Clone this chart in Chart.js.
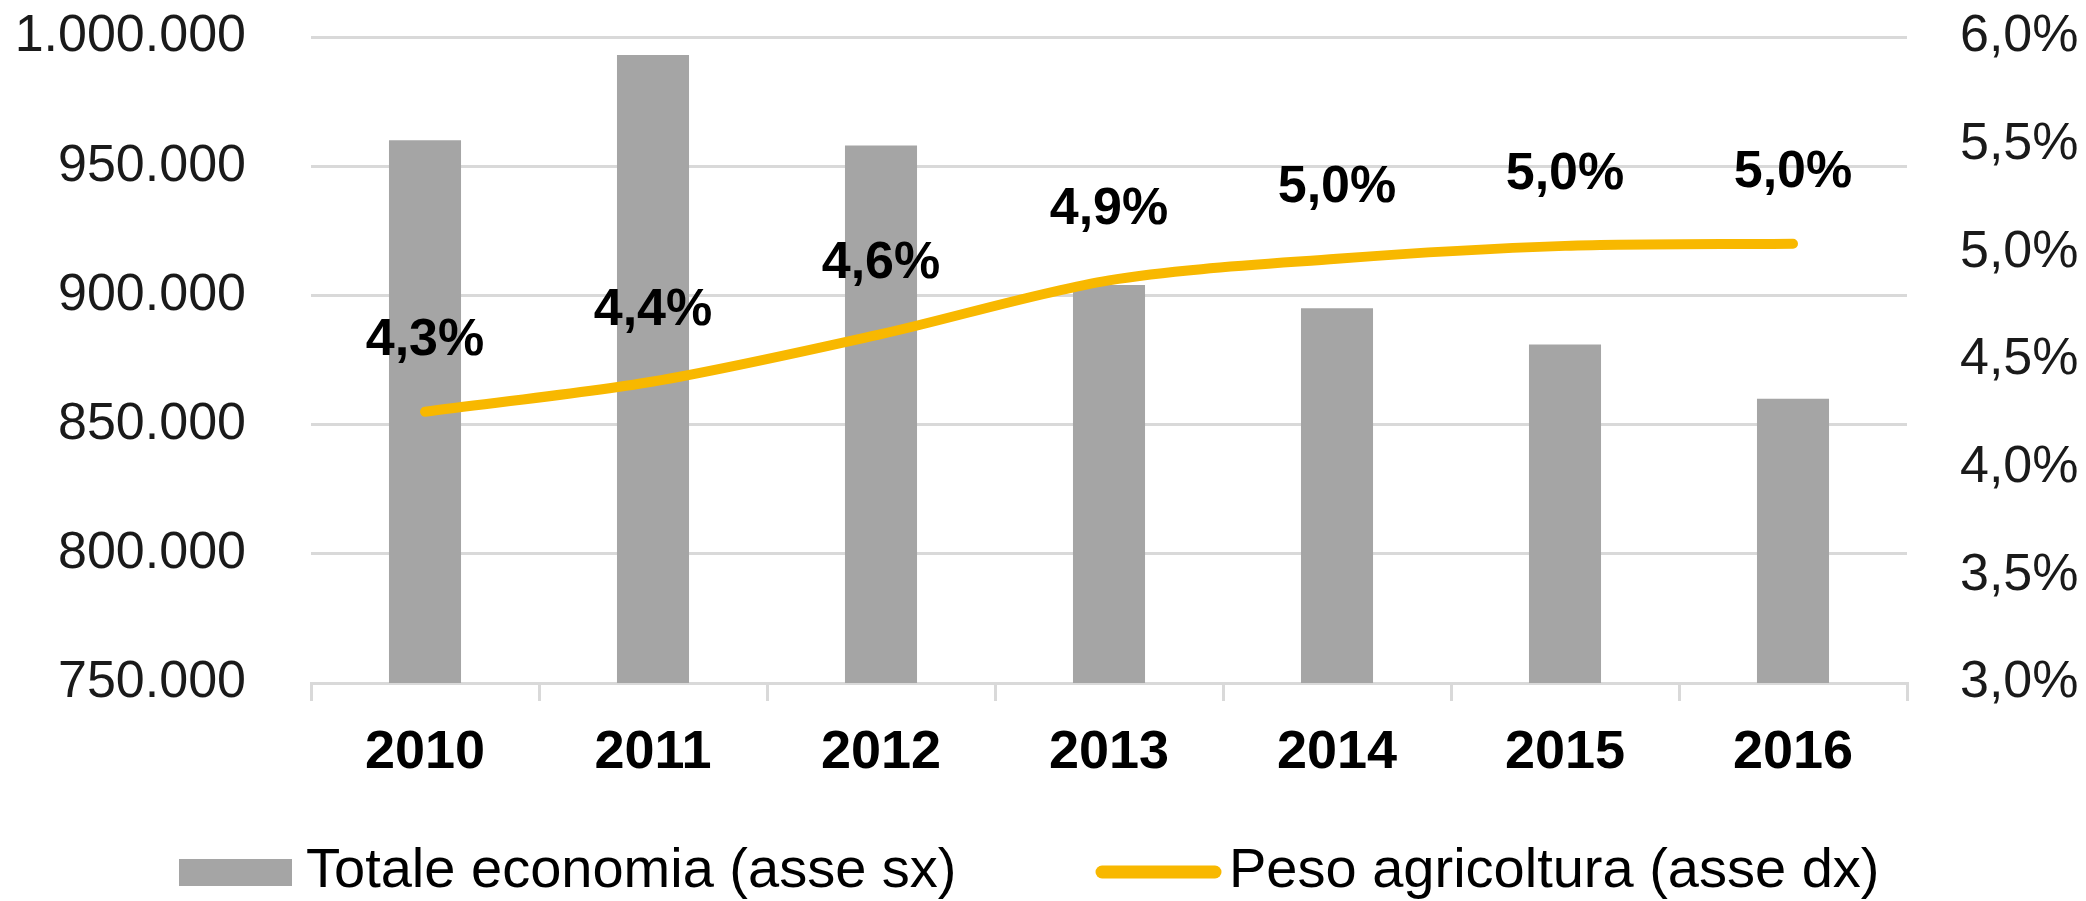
<!DOCTYPE html>
<html>
<head>
<meta charset="utf-8">
<script src="https://cdn.jsdelivr.net/npm/chart.js@4"></script>
<style>
  html, body { margin: 0; padding: 0; background: #ffffff; }
  #wrap { width: 2086px; height: 901px; }
</style>
</head>
<body>
<div id="wrap"><canvas id="c" width="2086" height="901"></canvas></div>
<script>
// ---- data ----
const years = ['2010', '2011', '2012', '2013', '2014', '2015', '2016'];
const totaleEconomia = [960000, 993000, 958000, 904000, 895000, 881000, 860000];
const pesoAgricoltura = [4.26, 4.40, 4.62, 4.87, 4.97, 5.03, 5.04];
const leftTicks = [750000, 800000, 850000, 900000, 950000, 1000000];
const rightTicks = [3.0, 3.5, 4.0, 4.5, 5.0, 5.5, 6.0];
const seriesNames = ['Totale economia (asse sx)', 'Peso agricoltura (asse dx)'];

const BAR_COLOR = '#A5A5A5';
const LINE_COLOR = '#F8B800';
const GRID_COLOR = '#D9D9D9';
const FONT = "'Liberation Sans', Arial, sans-serif";

function fmtThousands(v) {
  return String(Math.round(v)).replace(/\B(?=(\d{3})+(?!\d))/g, '.');
}
function fmtPct(v) {
  return v.toFixed(1).replace('.', ',') + '%';
}

const pointLabels = {
  id: 'pointLabels',
  afterDatasetsDraw(chart) {
    const meta = chart.getDatasetMeta(1);
    const ctx = chart.ctx;
    ctx.save();
    ctx.font = "bold 52px " + FONT;
    ctx.fillStyle = '#000000';
    ctx.textAlign = 'center';
    ctx.textBaseline = 'middle';
    meta.data.forEach((pt, i) => {
      ctx.fillText(fmtPct(pesoAgricoltura[i]), pt.x, pt.y - 71);
    });
    ctx.restore();
  }
};

const bottomLegend = {
  id: 'bottomLegend',
  afterDraw(chart) {
    const ctx = chart.ctx;
    const ds = chart.data.datasets;
    const cy = 872;
    ctx.save();
    ctx.font = "56px " + FONT;
    ctx.textAlign = 'left';
    ctx.textBaseline = 'middle';
    ctx.fillStyle = ds[0].backgroundColor;
    ctx.fillRect(179, cy - 13, 113, 27);
    ctx.fillStyle = '#000000';
    ctx.fillText(ds[0].label, 306, cy);
    ctx.strokeStyle = ds[1].borderColor;
    ctx.lineWidth = 13;
    ctx.lineCap = 'round';
    ctx.beginPath();
    ctx.moveTo(1102, cy);
    ctx.lineTo(1215, cy);
    ctx.stroke();
    ctx.fillText(ds[1].label, 1229, cy);
    ctx.restore();
  }
};

new Chart(document.getElementById('c'), {
  data: {
    labels: years,
    datasets: [
      {
        type: 'bar',
        label: seriesNames[0],
        data: totaleEconomia,
        backgroundColor: BAR_COLOR,
        borderWidth: 0,
        barPercentage: 0.316,
        categoryPercentage: 1.0,
        yAxisID: 'y',
        order: 2
      },
      {
        type: 'line',
        label: seriesNames[1],
        data: pesoAgricoltura,
        borderColor: LINE_COLOR,
        backgroundColor: LINE_COLOR,
        borderWidth: 10,
        borderCapStyle: 'round',
        borderJoinStyle: 'round',
        tension: 0.3,
        pointRadius: 0,
        fill: false,
        yAxisID: 'y1',
        order: 1
      }
    ]
  },
  options: {
    responsive: false,
    devicePixelRatio: 1,
    animation: false,
    layout: { padding: { top: 37, left: 0, right: 0, bottom: 108 } },
    plugins: {
      tooltip: { enabled: false },
      legend: { display: false }
    },
    scales: {
      x: {
        type: 'category',
        offset: true,
        afterFit(scale) { scale.height = 110; },
        grid: {
          offset: true,
          drawOnChartArea: false,
          drawTicks: true,
          tickLength: 18,
          color: GRID_COLOR,
          lineWidth: 3
        },
        border: { display: true, color: GRID_COLOR, width: 3 },
        ticks: {
          padding: 20,
          color: '#000000',
          autoSkip: false,
          maxRotation: 0,
          font: { family: FONT, size: 54, weight: 'bold' }
        }
      },
      y: {
        position: 'left',
        min: 750000,
        max: 1000000,
        afterFit(scale) { scale.width = 311; scale.paddingTop = 20; scale.paddingBottom = 20; },
        afterBuildTicks(scale) { scale.ticks = leftTicks.map(v => ({ value: v })); },
        grid: { color: GRID_COLOR, lineWidth: 3, drawTicks: false },
        border: { display: false },
        ticks: {
          padding: 65,
          color: '#1a1a1a',
          font: { family: FONT, size: 52 },
          callback: (v) => fmtThousands(v)
        }
      },
      y1: {
        position: 'right',
        min: 3.0,
        max: 6.0,
        afterFit(scale) { scale.width = 179; scale.paddingTop = 20; scale.paddingBottom = 20; },
        afterBuildTicks(scale) { scale.ticks = rightTicks.map(v => ({ value: v })); },
        grid: { display: false, drawTicks: false },
        border: { display: false },
        ticks: {
          padding: 53,
          color: '#1a1a1a',
          font: { family: FONT, size: 52 },
          callback: (v) => fmtPct(v)
        }
      }
    }
  },
  plugins: [pointLabels, bottomLegend]
});
</script>
</body>
</html>
